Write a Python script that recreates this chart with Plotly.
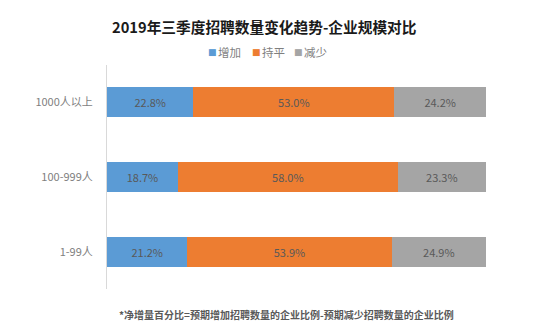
import plotly.graph_objects as go

categories = ["1000人以上", "100-999人", "1-99人"]
series_names = ["增加", "持平", "减少"]
increase = [22.8, 18.7, 21.2]
flat = [53.0, 58.0, 53.9]
decrease = [24.2, 23.3, 24.9]
colors = ["#5B9BD5", "#ED7D31", "#A5A5A5"]

FONT = "Noto Sans CJK SC, Microsoft YaHei, sans-serif"

fig = go.Figure()
for name, vals, col in zip(series_names, [increase, flat, decrease], colors):
    fig.add_trace(go.Bar(
        y=categories, x=vals, name=name, orientation="h",
        marker=dict(color=col, line=dict(width=0)),
        text=[f"{v:.1f}%" for v in vals], textposition="inside",
        insidetextanchor="middle",
        textfont=dict(color="#595959", size=11, family=FONT),
        hoverinfo="skip", showlegend=False,
    ))

fig.update_layout(
    barmode="stack", bargap=0.6,
    width=553, height=335,
    margin=dict(l=107, r=67, t=64.5, b=45.5),
    paper_bgcolor="white", plot_bgcolor="white",
    font=dict(family=FONT, color="#7F7F7F", size=11),
    showlegend=False,
    xaxis=dict(range=[0, 100], showgrid=False, zeroline=False, showticklabels=False,
               showline=False, fixedrange=True),
    yaxis=dict(categoryorder="array", categoryarray=categories, autorange="reversed",
               showgrid=False, zeroline=False, showline=True, linecolor="#D9D9D9",
               linewidth=1, ticks="", ticklabelstandoff=11,
               tickfont=dict(size=11, color="#7F7F7F", family=FONT)),
)

PW = 379.0
def px(x):
    return (x - 107) / PW

# legend drawn as annotations (compact like the original)
legend_x = [207, 251, 293]
for name, col, lx in zip(series_names, colors, legend_x):
    fig.add_annotation(text="■", xref="paper", yref="paper", x=px(lx), y=1,
                       yshift=13.5, xanchor="left", yanchor="middle", showarrow=False,
                       borderpad=0, font=dict(size=9, color=col, family="DejaVu Sans"))
    fig.add_annotation(text=name, xref="paper", yref="paper", x=px(lx + 10), y=1,
                       yshift=13.5, xanchor="left", yanchor="middle", showarrow=False,
                       borderpad=0, font=dict(size=11.5, color="#7F7F7F", family=FONT))

fig.add_annotation(text="<b>2019年三季度招聘数量变化趋势-企业规模对比</b>",
                   xref="paper", yref="paper", x=px(264), y=1, yshift=39,
                   xanchor="center", yanchor="middle", showarrow=False,
                   font=dict(size=14.7, color="#1A1A1A", family=FONT))
fig.add_annotation(text="<b>*净增量百分比=预期增加招聘数量的企业比例-预期减少招聘数量的企业比例</b>",
                   xref="paper", yref="paper", x=px(117), y=0, yshift=-25,
                   xanchor="left", yanchor="middle", showarrow=False,
                   font=dict(size=10, color="#595959", family=FONT))

fig.write_html("out.html")
